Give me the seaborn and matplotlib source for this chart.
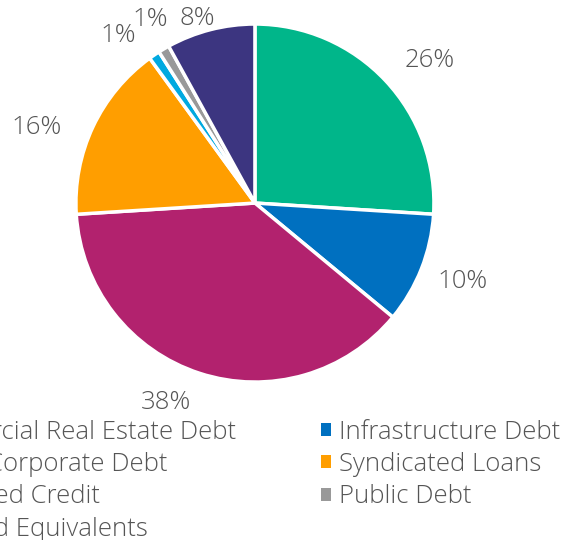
import matplotlib
matplotlib.use("Agg")
import matplotlib.pyplot as plt
import numpy as np
import seaborn as sns
from matplotlib.patches import Patch

# Allocation by strategy (percent of portfolio)
categories = [
    "Commercial Real Estate Debt",
    "Infrastructure Debt",
    "Private Corporate Debt",
    "Syndicated Loans",
    "Structured Credit",
    "Public Debt",
    "Cash and Equivalents",
]
shares = [26, 10, 38, 16, 1, 1, 8]
share_labels = ["26%", "10%", "38%", "16%", "1%", "1%", "8%"]

colors = ["#00B68A", "#0070C0", "#B2226E", "#FF9E00", "#00A9E0", "#999999", "#3C3580"]

# Label placement tweaks (radius factor, angle shift in degrees)
label_r = [1.26, 1.24, 1.22, 1.29, 1.21, 1.18, 1.08]
label_dtheta = [-4, 1, -6, 6, 5, -1, 3]

sns.set_theme(style="white")
families = ["Open Sans", "DejaVu Sans"]
plt.rcParams["font.family"] = families
text_color = "#555555"
fsize = 18.5
fweight = "light"

fig = plt.figure(figsize=(5.64, 5.40), dpi=100)
ax = fig.add_axes([0.452 - 0.3175, 0.624 - 0.3315, 0.635, 0.663])
ax.set_aspect("equal")

palette = sns.color_palette(colors)
wedges, _ = ax.pie(
    shares,
    colors=palette,
    startangle=90,
    counterclock=False,
    wedgeprops=dict(edgecolor="white", linewidth=2.5),
    radius=1.0,
)

# Percentage labels outside each wedge
for w, lab, rf, dt in zip(wedges, share_labels, label_r, label_dtheta):
    mid = np.deg2rad((w.theta1 + w.theta2) / 2 + dt)
    ax.text(rf * np.cos(mid), rf * np.sin(mid), lab, ha="center", va="center",
            color=text_color, fontsize=fsize, fontweight=fweight)

ax.set_xlim(-1.0, 1.0)
ax.set_ylim(-1.0, 1.0)
ax.axis("off")

# Legend entries laid out row by row across two columns
order = list(range(0, len(categories), 2)) + list(range(1, len(categories), 2))
handles = [Patch(facecolor=palette[i], edgecolor="none") for i in order]
labels = [categories[i] for i in order]
fig.legend(
    handles, labels, ncol=2, loc="upper right",
    bbox_to_anchor=(0.993, 0.223), frameon=False,
    prop=dict(family=families, size=fsize, weight=fweight),
    labelcolor=text_color,
    handlelength=0.39, handleheight=0.39, handletextpad=0.3,
    columnspacing=3.3, labelspacing=0.29, borderaxespad=0, borderpad=0,
)

fig.savefig("out.png", dpi=100)
